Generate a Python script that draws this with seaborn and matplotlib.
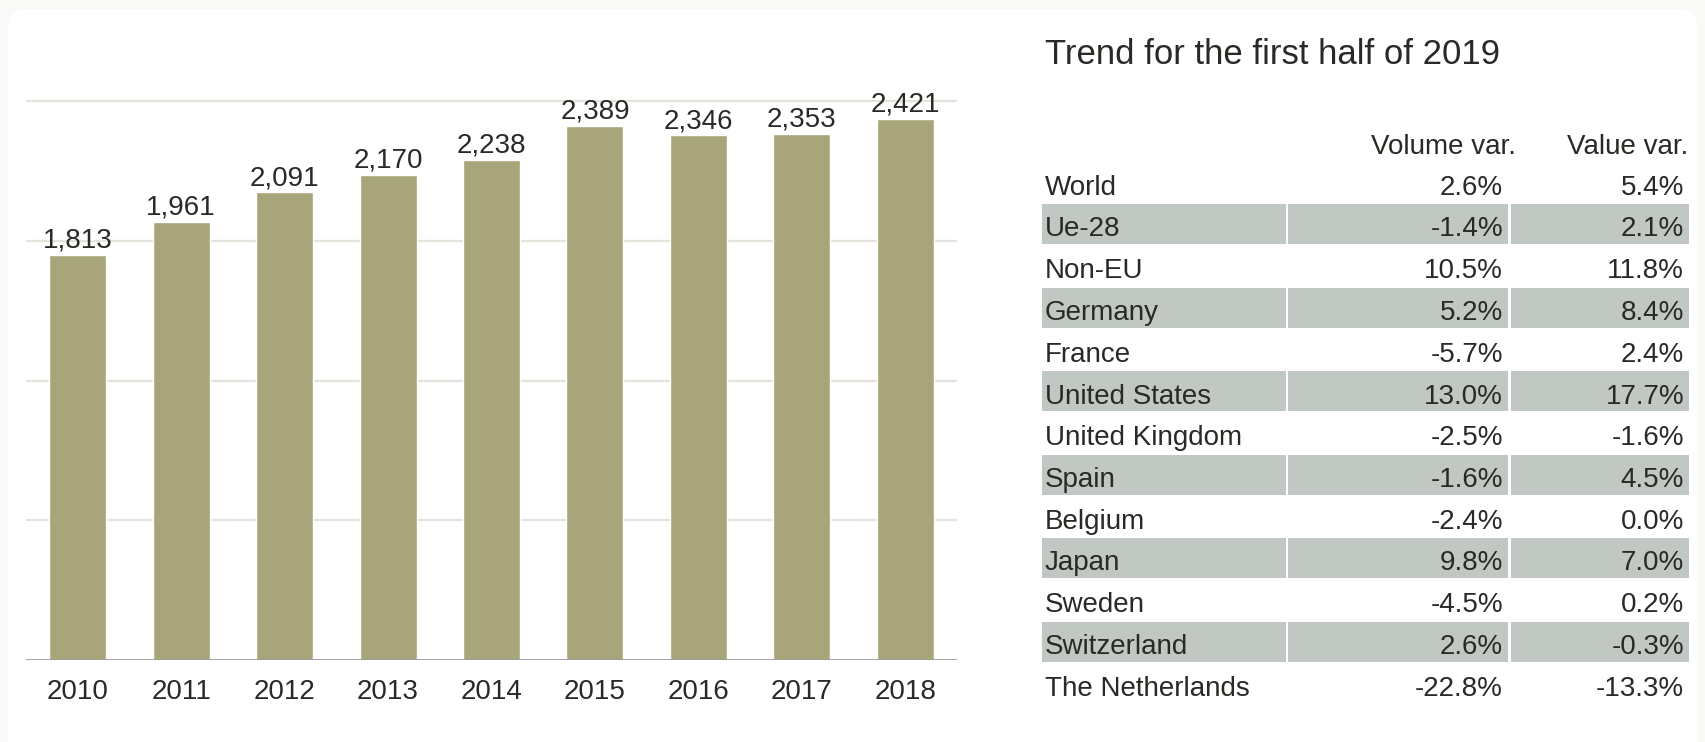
import matplotlib
matplotlib.use("Agg")
import matplotlib.pyplot as plt
from matplotlib.patches import Rectangle, FancyBboxPatch
import seaborn as sns
import pandas as pd

# ---- data ----
years = ["2010", "2011", "2012", "2013", "2014", "2015", "2016", "2017", "2018"]
values = [1813, 1961, 2091, 2170, 2238, 2389, 2346, 2353, 2421]

table_title = "Trend for the first half of 2019"
col_headers = ["Volume var.", "Value var."]
countries = ["World", "Ue-28", "Non-EU", "Germany", "France", "United States",
             "United Kingdom", "Spain", "Belgium", "Japan", "Sweden",
             "Switzerland", "The Netherlands"]
volume_var = ["2.6%", "-1.4%", "10.5%", "5.2%", "-5.7%", "13.0%", "-2.5%",
              "-1.6%", "-2.4%", "9.8%", "-4.5%", "2.6%", "-22.8%"]
value_var = ["5.4%", "2.1%", "11.8%", "8.4%", "2.4%", "17.7%", "-1.6%",
             "4.5%", "0.0%", "7.0%", "0.2%", "-0.3%", "-13.3%"]

# ---- style ----
sns.set_theme(style="white")
plt.rcParams["font.family"] = ["Liberation Sans", "DejaVu Sans"]
TXT = "#2b2925"
BAR = "#a8a57b"
SHADE = "#c1c8c3"
GRID = "#e6e3dc"

W, H = 1705, 742
fig = plt.figure(figsize=(W / 100, H / 100), dpi=100)
fig.patch.set_facecolor("#f9f9f8")

# background panel
bg = fig.add_axes([0, 0, 1, 1])
bg.set_xlim(0, W)
bg.set_ylim(H, 0)
bg.axis("off")
bg.add_patch(FancyBboxPatch((8, 9), W - 16, H + 40,
                            boxstyle="round,pad=0,rounding_size=18",
                            facecolor="white", edgecolor="none"))

# ---- bar chart ----
ymax = 2520
px_per_unit = (660 - 101) / 2500
ax_top_px = 660 - ymax * px_per_unit
ax = fig.add_axes([26 / W, (H - 660) / H, (957 - 26) / W, (660 - ax_top_px) / H])
ax.set_facecolor("none")
df = pd.DataFrame({"year": years, "value": values})
sns.barplot(data=df, x="year", y="value", color=BAR, width=0.55,
            saturation=1, ax=ax, zorder=3)
ax.set_ylim(0, ymax)
ax.set_xlim(-0.5, len(years) - 0.5)
for t in [625, 1250, 1875, 2500]:
    ax.axhline(t, color=GRID, lw=1.6, zorder=1)
ax.axhline(0, color="#9a9a9a", lw=2, zorder=4)
for s in ax.spines.values():
    s.set_visible(False)
ax.set_yticks([])
ax.set_xlabel("")
ax.set_ylabel("")
ax.tick_params(axis="x", length=0, pad=14, labelsize=20, labelcolor=TXT)
ax.bar_label(ax.containers[0], labels=[f"{v:,}" for v in values],
             padding=0.8, fontsize=20, color=TXT)

# ---- table ----
bg.text(1045, 64, table_title, fontsize=25, color=TXT, va="baseline", ha="left")
bg.text(1516, 154, col_headers[0], fontsize=20, color=TXT, va="baseline", ha="right")
bg.text(1688, 154, col_headers[1], fontsize=20, color=TXT, va="baseline", ha="right")

cells = [(1042, 1286), (1288, 1508), (1511, 1689)]
pitch = 41.75
first_center = 224 - pitch
for i, name in enumerate(countries):
    c = first_center + i * pitch
    if i % 2 == 1:
        for x0, x1 in cells:
            bg.add_patch(Rectangle((x0, c - 20), x1 - x0, 40,
                                   facecolor=SHADE, edgecolor="none"))
    base = c + 12.5
    bg.text(1045, base, name, fontsize=20, color=TXT, va="baseline", ha="left")
    bg.text(1503, base, volume_var[i], fontsize=20, color=TXT, va="baseline", ha="right")
    bg.text(1684, base, value_var[i], fontsize=20, color=TXT, va="baseline", ha="right")

fig.savefig("out.png", dpi=100, facecolor=fig.get_facecolor())
